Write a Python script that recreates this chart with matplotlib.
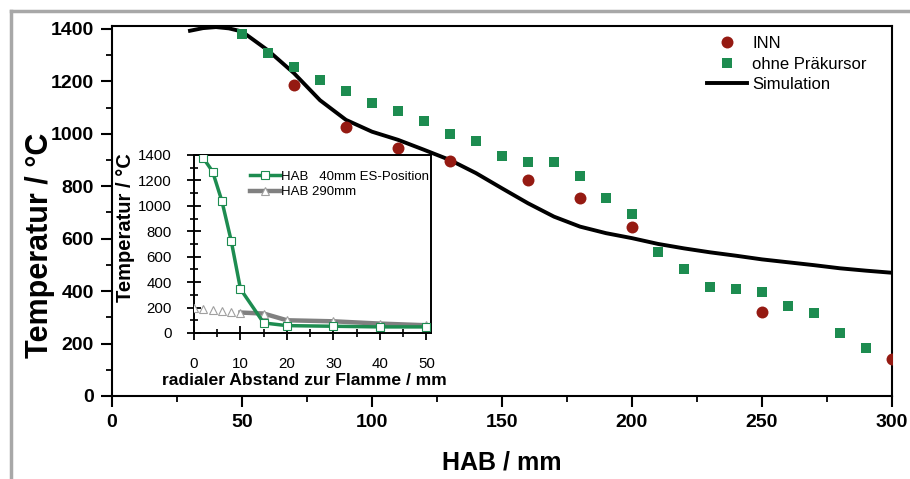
import matplotlib
matplotlib.use("Agg")
import matplotlib.pyplot as plt
from matplotlib.lines import Line2D
from matplotlib.ticker import MultipleLocator

plt.rcParams['font.family'] = ['Liberation Sans', 'DejaVu Sans']

# main plot: temperature along the flame (HAB)
inn_hab = [70, 90, 110, 130, 160, 180, 200, 250, 300]
inn_temp = [1185, 1025, 947, 895, 825, 755, 645, 322, 142]

ohne_hab = list(range(50, 300, 10))
ohne_temp = [1380, 1310, 1253, 1204, 1162, 1119, 1086, 1047, 1000, 974,
             917, 894, 894, 840, 755, 694, 549, 483, 416, 407,
             398, 343, 318, 242, 184]

sim_hab = [30, 35, 40, 45, 50, 60, 70, 80, 90, 100, 110, 120, 130, 140, 150,
           160, 170, 180, 190, 200, 210, 220, 230, 240, 250, 260, 270, 280, 290, 300]
sim_temp = [1393, 1403, 1407, 1402, 1390, 1318, 1231, 1128, 1053, 1008, 977, 939,
            900, 850, 792, 735, 684, 646, 621, 602, 580, 563, 548, 535, 521,
            510, 499, 487, 478, 470]

# inset: radial profiles
r40 = [2, 4, 6, 8, 10, 15, 20, 30, 40, 50]
t40 = [1376, 1270, 1038, 726, 346, 79, 58, 53, 48, 48]
r290 = [0, 2, 4, 6, 8, 10, 15, 20, 30, 40, 50]
t290 = [193, 185, 180, 174, 166, 161, 153, 100, 92, 74, 61]

red = '#951a12'
green = '#1d8c50'
W, H = 910, 479

fig = plt.figure(figsize=(W / 100, H / 100), dpi=100)
ax = fig.add_axes([112 / W, 1 - 396 / H, 780 / W, 370.5 / H])

ax.plot(inn_hab, inn_temp, 'o', color=red, ms=8.6, mew=0, label='INN', zorder=3)
ax.plot(ohne_hab, ohne_temp, 's', color=green, ms=7.2, mew=0, label='ohne Präkursor', zorder=3)
ax.plot(sim_hab, sim_temp, '-', color='black', lw=2.8, label='Simulation', zorder=2)

ax.set_xlim(0, 300)
ax.set_ylim(0, 1413)
ax.xaxis.set_major_locator(MultipleLocator(50))
ax.xaxis.set_minor_locator(MultipleLocator(25))
ax.yaxis.set_major_locator(MultipleLocator(200))
ax.yaxis.set_minor_locator(MultipleLocator(100))
ax.tick_params(which='major', direction='out', length=8, width=1.5, labelsize=14, pad=5)
ax.tick_params(which='minor', direction='out', length=4, width=1.3)
for lab in ax.get_xticklabels() + ax.get_yticklabels():
    lab.set_fontweight('bold')
for s in ax.spines.values():
    s.set_linewidth(1.5)
ax.set_xlabel('HAB / mm', fontsize=18, fontweight='bold', labelpad=14)
ax.set_ylabel('Temperatur / °C', fontsize=22, fontweight='bold')
ax.yaxis.set_label_coords(-0.073, 0.408)

ax.legend(loc='upper left', bbox_to_anchor=(699 / W, 1 - 28 / H),
          bbox_transform=fig.transFigure, frameon=False, fontsize=12,
          handlelength=2.4, handletextpad=0.3, labelspacing=0.32, borderpad=0)

# inset
ins = fig.add_axes([194 / W, 1 - 333 / H, 237 / W, 178 / H])
ins.plot(r290[5:], t290[5:], '-', color='#808080', lw=3.2, zorder=2)
ins.plot(r290, t290, '^', color='#808080', mfc='white', mec='#a0a0a0', ms=6, mew=0.8, zorder=3)
ins.plot(r40, t40, '-s', color=green, lw=2.5, mfc='white', mec=green, ms=5.5, mew=0.8, zorder=4,
         label='HAB   40mm ES-Position')
ins.plot([], [], '-^', color='#808080', lw=3.2, mfc='white', mec='#a0a0a0', ms=6, mew=0.8,
         label='HAB 290mm')
ins.set_xlim(0, 51)
ins.set_ylim(0, 1400)
ins.xaxis.set_major_locator(MultipleLocator(10))
ins.xaxis.set_minor_locator(MultipleLocator(5))
ins.yaxis.set_major_locator(MultipleLocator(200))
ins.yaxis.set_minor_locator(MultipleLocator(100))
ins.tick_params(which='major', direction='inout', length=10, width=1.3, labelsize=10.8)
ins.tick_params(which='minor', direction='inout', length=6, width=1.2)
ins.tick_params(axis='y', which='major', pad=11)
ins.tick_params(axis='x', which='major', pad=12)
for s in ins.spines.values():
    s.set_linewidth(1.4)
ins.set_xlabel('radialer Abstand zur Flamme / mm', fontsize=12.6, fontweight='bold')
ins.xaxis.set_label_coords(0.464, -0.225)
ins.set_ylabel('Temperatur / °C', fontsize=14.5, fontweight='bold')
ins.yaxis.set_label_coords(-0.25, 0.59)
ins.legend(loc='upper left', bbox_to_anchor=(243 / W, 1 - 164 / H),
           bbox_transform=fig.transFigure, frameon=False, fontsize=9.5,
           handlelength=2.3, handletextpad=0.1, labelspacing=0.25, borderpad=0)

# grey page frame
fc = '#a8a8a8'
fig.add_artist(Line2D([11 / W, 11 / W], [0, 1 - 11 / H], color=fc, lw=2.5))
fig.add_artist(Line2D([11 / W, 1], [1 - 11 / H, 1 - 11 / H], color=fc, lw=2.5))

fig.savefig('out.png', dpi=100)
